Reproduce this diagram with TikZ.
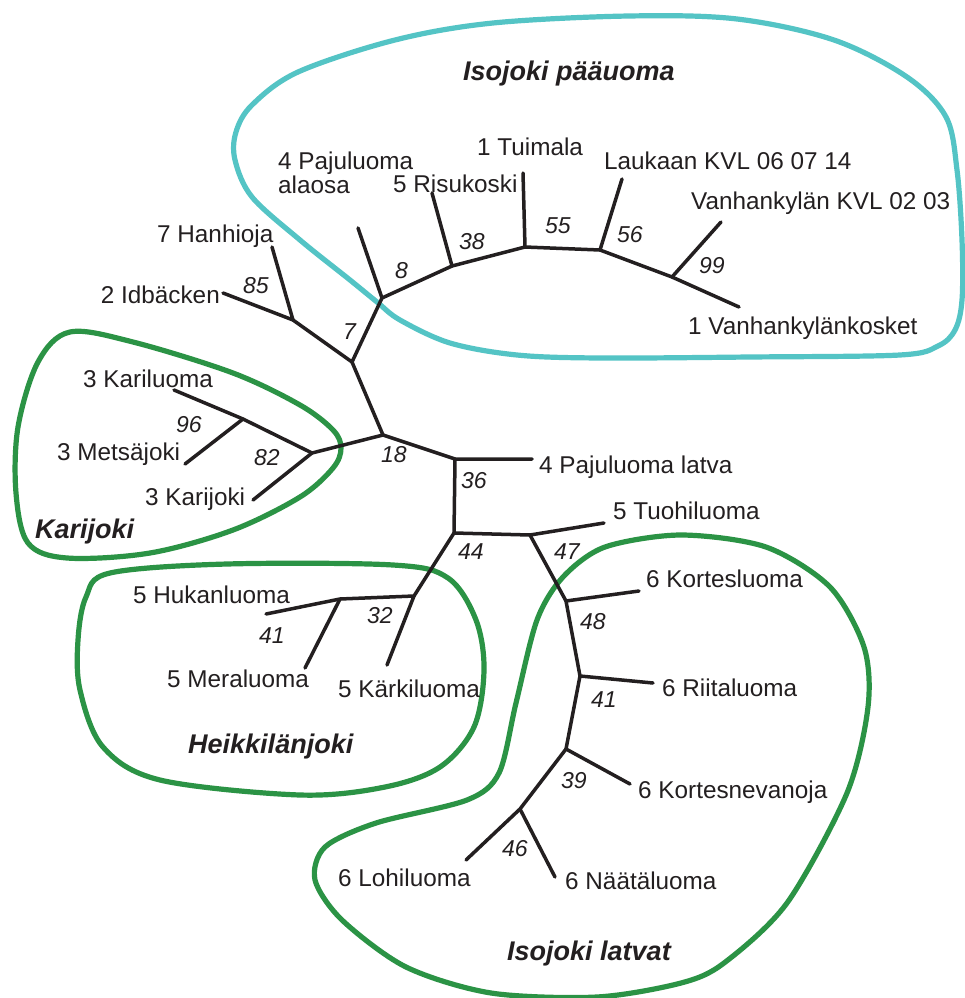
\documentclass[tikz,border=0pt]{standalone}
\usepackage{fontspec}
\setmainfont{Liberation Sans}
\definecolor{ink}{HTML}{231F20}
\definecolor{cyanc}{RGB}{84,196,197}
\definecolor{greenc}{RGB}{43,147,69}
\begin{document}
\begin{tikzpicture}[x=1pt,y=-1pt,
  br/.style={draw=ink, line width=3.5pt, line cap=round, line join=round},
  lbl/.style={anchor=base west, inner sep=0pt, text=ink, font=\fontsize{24.3}{28}\selectfont},
  num/.style={anchor=base west, inner sep=0pt, text=ink, font=\fontsize{23}{27}\selectfont\itshape},
  ttl/.style={anchor=base west, inner sep=0pt, text=ink, font=\fontsize{27}{31}\selectfont\bfseries\itshape},
  cyanline/.style={draw=cyanc, line width=5.2pt},
  greenline/.style={draw=greenc, line width=5.2pt}]
\useasboundingbox (0,0) rectangle (965,998);
\fill[white] (0,0) rectangle (965,998);

% ---- group outlines ----
\draw[cyanline] plot[smooth cycle, tension=0.55] coordinates {
 (629,16) (737,19) (834,40) (907,77) (946,117) (957,170) (962,240) (962,300)
 (955,330) (938,346) (900,355) (750,357) (600,358) (517,355) (450,343)
 (400,320) (377,302) (350,280) (300,240) (252,197) (235,160) (236,132)
 (252,105) (298,72) (395,40) (493,23)};

\draw[greenline] plot[smooth cycle, tension=0.55] coordinates {
 (70,332) (133,342) (233,373) (300,405) (333,430) (341,448) (333,468)
 (300,497) (233,530) (150,553) (67,558) (28,543) (16,493) (18,427) (38,362)};

\draw[greenline] plot[smooth cycle, tension=0.55] coordinates {
 (110,573) (227,564) (393,565) (448,578) (476,620) (484,670) (474,727)
 (440,767) (385,787) (300,795) (160,780) (103,747) (80,690) (78,640) (86,597)};

\draw[greenline] plot[smooth cycle, tension=0.5] coordinates {
 (467,800) (499,773) (516,703) (537,620) (563,577) (605,547) (681,535)
 (766,547) (830,587) (864,647) (868,707) (847,793) (787,903) (724,963)
 (681,983) (597,997) (491,993) (406,967) (342,920) (315,880) (325,847) (376,823)};

% ---- tree coordinates ----
\coordinate (A) at (293,320);
\coordinate (B) at (352,362);
\coordinate (C) at (382,298);
\coordinate (D) at (452,266);
\coordinate (E) at (525,247);
\coordinate (F) at (600,250);
\coordinate (G) at (672,277);
\coordinate (H) at (383,435);
\coordinate (I) at (312,453);
\coordinate (J) at (243,419);
\coordinate (K) at (455,459);
\coordinate (L) at (454,533);
\coordinate (M) at (530,535);
\coordinate (N) at (566,601);
\coordinate (Q) at (580,676);
\coordinate (R) at (566,749);
\coordinate (S) at (520,809);
\coordinate (O) at (414,596);
\coordinate (P) at (340,599);

\coordinate (tHan) at (272,247);
\coordinate (tIdb) at (223,293);
\coordinate (tPal) at (358,228);
\coordinate (tRis) at (432,193);
\coordinate (tTui) at (523,173);
\coordinate (tLau) at (622,179);
\coordinate (tVkv) at (721,222);
\coordinate (tVko) at (739,307);
\coordinate (tKal) at (174,390);
\coordinate (tMet) at (185,464);
\coordinate (tKaj) at (253,500);
\coordinate (tPla) at (532,459);
\coordinate (tTuo) at (604,523);
\coordinate (tKol) at (639,591);
\coordinate (tRii) at (653,683);
\coordinate (tKon) at (630,784);
\coordinate (tLoh) at (466,860);
\coordinate (tNaa) at (555,877);
\coordinate (tHuk) at (266,614);
\coordinate (tMer) at (305,668);
\coordinate (tKar) at (387,665);

% ---- tree branches ----
\draw[br] (tHan) -- (A) -- (tIdb);
\draw[br] (A) -- (B) -- (C) -- (tPal);
\draw[br] (C) -- (D) -- (tRis);
\draw[br] (D) -- (E) -- (tTui);
\draw[br] (E) -- (F) -- (tLau);
\draw[br] (F) -- (G) -- (tVkv);
\draw[br] (G) -- (tVko);
\draw[br] (B) -- (H) -- (I) -- (J) -- (tKal);
\draw[br] (J) -- (tMet);
\draw[br] (I) -- (tKaj);
\draw[br] (H) -- (K) -- (tPla);
\draw[br] (K) -- (L) -- (M) -- (tTuo);
\draw[br] (M) -- (N) -- (tKol);
\draw[br] (N) -- (Q) -- (tRii);
\draw[br] (Q) -- (R) -- (tKon);
\draw[br] (R) -- (S) -- (tLoh);
\draw[br] (S) -- (tNaa);
\draw[br] (L) -- (O) -- (P) -- (tHuk);
\draw[br] (P) -- (tMer);
\draw[br] (O) -- (tKar);

% ---- leaf labels ----
\node[lbl] (lPal1) at (278,169) {4 Pajuluoma};
\node[lbl] (lPal2) at (278,193) {alaosa};
\node[lbl] (lRis) at (393,192) {5 Risukoski};
\node[lbl] (lTui) at (477,155) {1 Tuimala};
\node[lbl] (lLau) at (604,169) {Laukaan KVL 06 07 14};
\node[lbl] (lVkv) at (691,209) {Vanhankylän KVL 02 03};
\node[lbl] (lVko) at (688,334) {1 Vanhankylänkosket};
\node[lbl] (lHan) at (157,242) {7 Hanhioja};
\node[lbl, anchor=base east] (lIdb) at (220,303) {2 Idbäcken};
\node[lbl] (lKal) at (83,387) {3 Kariluoma};
\node[lbl] (lMet) at (57,460) {3 Metsäjoki};
\node[lbl] (lKaj) at (145,505) {3 Karijoki};
\node[lbl] (lPla) at (539,473) {4 Pajuluoma latva};
\node[lbl] (lTuo) at (613,519) {5 Tuohiluoma};
\node[lbl] (lKol) at (646,587) {6 Kortesluoma};
\node[lbl] (lHuk) at (133,603) {5 Hukanluoma};
\node[lbl] (lMer) at (167,687) {5 Meraluoma};
\node[lbl] (lKar) at (338,697) {5 Kärkiluoma};
\node[lbl] (lRii) at (662,696) {6 Riitaluoma};
\node[lbl] (lKon) at (638,798) {6 Kortesnevanoja};
\node[lbl] (lLoh) at (338,886) {6 Lohiluoma};
\node[lbl] (lNaa) at (565,889) {6 Näätäluoma};

% ---- support values ----
\node[num] (n85) at (243,293) {85};
\node[num] (n7) at (343,339) {7};
\node[num] (n8) at (395,278) {8};
\node[num] (n38) at (459,249) {38};
\node[num] (n55) at (545,233) {55};
\node[num] (n56) at (617,242) {56};
\node[num] (n99) at (699,273) {99};
\node[num] (n96) at (176,432) {96};
\node[num] (n82) at (254,465) {82};
\node[num] (n18) at (381,462) {18};
\node[num] (n36) at (461,488) {36};
\node[num] (n44) at (458,559) {44};
\node[num] (n47) at (554,559) {47};
\node[num] (n48) at (580,629) {48};
\node[num] (n41a) at (259,643) {41};
\node[num] (n32) at (367,623) {32};
\node[num] (n41b) at (591,707) {41};
\node[num] (n39) at (561,788) {39};
\node[num] (n46) at (502,856) {46};

% ---- group titles ----
\node[ttl] (gIso) at (463,81) {Isojoki pääuoma};
\node[ttl] (gKar) at (35,538) {Karijoki};
\node[ttl] (gHei) at (188,753) {Heikkilänjoki};
\node[ttl] (gLat) at (507,960) {Isojoki latvat};
\end{tikzpicture}
\end{document}
